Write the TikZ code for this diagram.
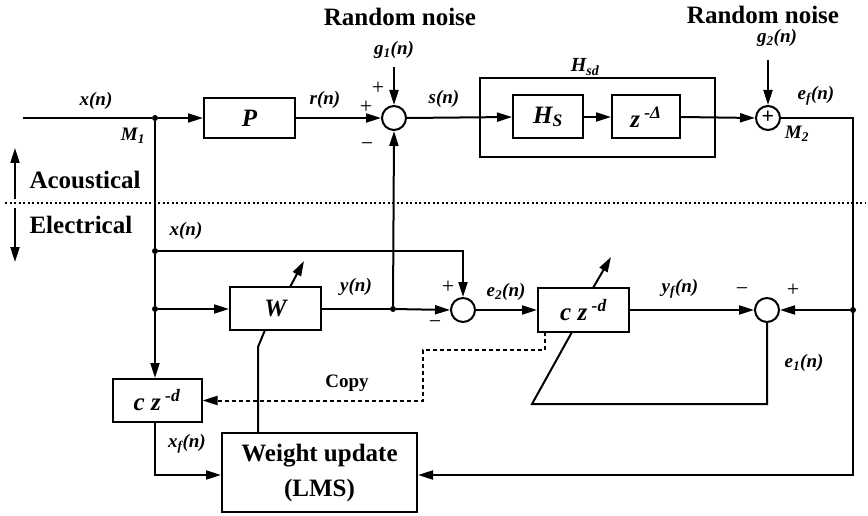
\documentclass[tikz,border=0pt]{standalone}
\usepackage{fontspec}
\setmainfont{Liberation Serif}
\usetikzlibrary{arrows.meta}
\tikzset{
  ln/.style={line width=2pt},
  arr/.style={ln,-{Triangle[length=15pt,width=9pt]}},
  blk/.style={draw,line width=2pt,inner sep=0pt},
  sumc/.style={draw,circle,line width=2pt,minimum size=24pt,inner sep=0pt},
  jn/.style={circle,fill,minimum size=6pt,inner sep=0pt},
  lbl/.style={font=\fontsize{19}{21}\selectfont\bfseries\itshape,inner sep=1pt},
  sgn/.style={font=\fontsize{22}{22}\selectfont,inner sep=0pt},
  big/.style={font=\fontsize{25}{27}\selectfont\bfseries},
  blab/.style={font=\fontsize{25}{27}\selectfont\bfseries\itshape},
}
\begin{document}
\begin{tikzpicture}[x=1pt,y=-1pt]
\useasboundingbox (0,0) rectangle (868,516);
% blocks
\node[blk,minimum width=91pt,minimum height=40pt,blab] (P) at (249.5,118) {P};
\node[blk,minimum width=235pt,minimum height=79pt] (Hsd) at (597.5,117.5) {};
\node[blk,minimum width=70pt,minimum height=43pt,blab] (Hs) at (548,117) {H\textsubscript{S}};
\node[blk,minimum width=68pt,minimum height=43pt,blab] (Zd) at (646,117) {z\textsuperscript{ -Δ}};
\node[sumc] (S1) at (394,118) {};
\node[sumc] (S2) at (768,118) {};
\node[font=\fontsize{22}{22}\selectfont\bfseries,inner sep=0pt] at ([yshift=1pt]S2) {+};
\node[sumc] (S3) at (767,310) {};
\node[sumc] (Se) at (463,310) {};
\node[blk,minimum width=91pt,minimum height=43pt,blab] (W) at (275.5,308.5) {W};
\node[blk,minimum width=91pt,minimum height=44pt,blab] (CZ) at (583.5,310) {c z\textsuperscript{ -d}};
\node[blk,minimum width=89pt,minimum height=43pt,blab] (CZL) at (157,400.5) {c z\textsuperscript{ -d}};
\node[blk,minimum width=195pt,minimum height=79pt,align=center,font=\fontsize{25}{35}\selectfont\bfseries] (WU) at (319.5,472.5) {Weight update\\(LMS)};
% junctions and free ends
\node[jn] (M1) at (155,118) {};
\node[jn] (J2) at (155,251) {};
\node[jn] (J3) at (155,309) {};
\node[jn] (JY) at (393,309) {};
\node[jn] (JR) at (853,310) {};
\coordinate (in) at (23,118);
\coordinate (g1) at (394,67);
\coordinate (g2) at (768,60);
\coordinate (TR) at (853,118);
\coordinate (BR) at (853,475);
\coordinate (XT) at (463,251);
\coordinate (E1a) at (767,404);
\coordinate (E1b) at (532,404);
\coordinate (E1c) at (572,332);
\coordinate (CZa1) at (593,288);
\coordinate (CZa2) at (611,257);
\coordinate (Wa1) at (290,287);
\coordinate (Wa2) at (304,261);
\coordinate (Wb1) at (265,330);
\coordinate (Wb2) at (258,347);
\coordinate (BL) at (155,475);
\coordinate (D1) at (545,332);
\coordinate (D2) at (545,350);
\coordinate (D3) at (423,350);
\coordinate (D4) at (423,400.5);
% connectors
\draw[ln] (in) -- (M1);
\draw[arr] (M1) -- (P.west);
\draw[arr] (P.east) -- (S1.west);
\draw[arr] (g1) -- (S1.north);
\draw[arr] (S1.east) -- (Hs.west);
\draw[arr] (Hs.east) -- (Zd.west);
\draw[arr] (Zd.east) -- (S2.west);
\draw[arr] (g2) -- (S2.north);
\draw[arr] (S2.east) -- (TR) -- (BR) -- (WU.east |- BR);
\draw[arr] (JR) -- (S3.east);
\draw[arr] (CZ.east) -- (S3.west);
\draw[ln] (S3.south) -- (E1a) -- (E1b) -- (E1c);
\draw[arr] (CZa1) -- (CZa2);
\draw[arr] (Se.east) -- (CZ.west);
\draw[arr] (J2) -- (XT) -- (Se.north);
\draw[ln] (W.east |- JY) -- (JY);
\draw[arr] (JY) -- (Se.west);
\draw[arr] (JY) -- (S1.south);
\draw[ln] (M1) -- (J2) -- (J3);
\draw[arr] (J3) -- (CZL.north -| J3);
\draw[arr] (J3) -- (W.west |- J3);
\draw[arr] (CZL.south -| BL) -- (BL) -- (WU.west |- BL);
\draw[ln] (Wb1) -- (Wb2) -- (WU.north -| Wb2);
\draw[arr] (Wa1) -- (Wa2);
\draw[ln,dash pattern=on 4pt off 3pt,-{Triangle[length=15pt,width=9pt]}] (D1) -- (D2) -- (D3) -- (D4) -- (CZL.east |- D4);
% dotted boundary
\draw[line width=1.2pt,dash pattern=on 2pt off 2.5pt] (5,203) -- (866,203);
\coordinate (A1) at (15,199); \coordinate (A2) at (15,148);
\coordinate (A3) at (15,208); \coordinate (A4) at (15,262);
\draw[arr] (A1) -- (A2);
\draw[arr] (A3) -- (A4);
% labels
\node[big] at (400,17) {Random noise};
\node[big] at (763,15) {Random noise};
\node[lbl] at (394,50) {g\textsubscript{1}(n)};
\node[lbl] at (777,38) {g\textsubscript{2}(n)};
\node[lbl] at (96,101) {x(n)};
\node[lbl] at (133,136) {M\textsubscript{1}};
\node[lbl] at (325,100) {r(n)};
\node[lbl] at (444,99) {s(n)};
\node[font=\fontsize{20}{22}\selectfont\bfseries\itshape] at (585,67) {H\textsubscript{sd}};
\node[lbl] at (816,96) {e\textsubscript{f}(n)};
\node[lbl] at (797,134) {M\textsubscript{2}};
\node[sgn] at (378,88) {+};
\node[sgn] at (366,107) {+};
\node[sgn] at (367,147) {−};
\node[big,anchor=west] at (26,180) {Acoustical};
\node[big,anchor=west] at (26,225) {Electrical};
\node[lbl] at (186,231) {x(n)};
\node[lbl] at (356,287) {y(n)};
\node[sgn] at (448,287) {+};
\node[sgn] at (435,325) {−};
\node[lbl] at (506,292) {e\textsubscript{2}(n)};
\node[lbl] at (680,289) {y\textsubscript{f}(n)};
\node[sgn] at (742,292) {−};
\node[sgn] at (793,290) {+};
\node[lbl] at (804,363) {e\textsubscript{1}(n)};
\node[font=\fontsize{19}{21}\selectfont\bfseries] at (347,383) {Copy};
\node[lbl] at (187,444) {x\textsubscript{f}(n)};
\end{tikzpicture}
\end{document}
